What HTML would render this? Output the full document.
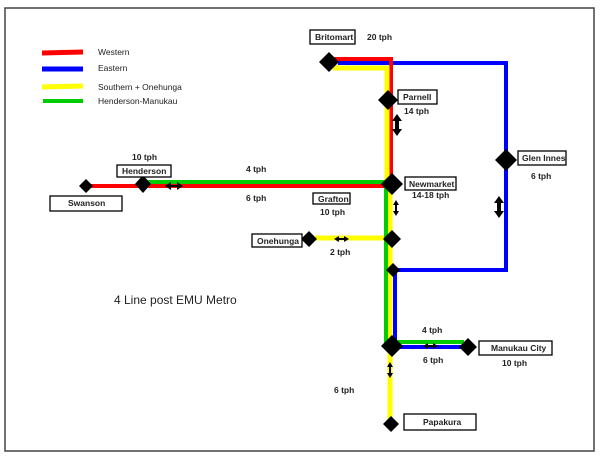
<!DOCTYPE html>
<html><head><meta charset="utf-8"><style>
html,body{margin:0;padding:0;background:#fff;}
svg{display:block;}
text{font-family:"Liberation Sans",Arial,sans-serif;font-size:8.5px;font-weight:bold;fill:#222;}
.l{fill:#fff;stroke:#000;stroke-width:1.3;}
</style></head><body>
<svg width="600" height="464" viewBox="0 0 600 464" xmlns="http://www.w3.org/2000/svg">
<rect x="5" y="8" width="589" height="443" fill="#fff" stroke="#444" stroke-width="1.5"/>
<!-- legend -->
<line x1="42" y1="53" x2="83" y2="52" stroke="#f00" stroke-width="5"/>
<line x1="42" y1="69" x2="83" y2="69" stroke="#00f" stroke-width="5"/>
<line x1="42" y1="87" x2="83" y2="86" stroke="#ff0" stroke-width="5"/>
<line x1="43" y1="101" x2="83" y2="101" stroke="#0c0" stroke-width="4"/>
<text x="98" y="55" style="font-weight:normal">Western</text>
<text x="98" y="71" style="font-weight:normal">Eastern</text>
<text x="98" y="90" style="font-weight:normal">Southern + Onehunga</text>
<text x="98" y="104" style="font-weight:normal">Henderson-Manukau</text>
<text x="114" y="304" style="font-size:12px;font-weight:normal">4 Line post EMU Metro</text>
<!-- lines -->
<polyline points="338,63 506,63 506,270 395,270 395,347 466,347" fill="none" stroke="#00f" stroke-width="4"/>
<polyline points="333,59 391,59 391,186 86,186" fill="none" stroke="#f00" stroke-width="4"/>
<polyline points="333,68 387,68 387,185" fill="none" stroke="#ff0" stroke-width="5"/>
<polyline points="390,185 390,424" fill="none" stroke="#ff0" stroke-width="5"/>
<line x1="315" y1="238" x2="390" y2="238" stroke="#ff0" stroke-width="5"/>
<polyline points="143,182 386,182 386,342 464,342" fill="none" stroke="#0c0" stroke-width="4"/>
<!-- diamonds -->
<g fill="#000">
<polygon points="329,52 339,62 329,72 319,62"/>
<polygon points="388,90 398,100 388,110 378,100"/>
<polygon points="506,149 517,160 506,171 495,160"/>
<polygon points="392,173 403,184 392,195 381,184"/>
<polygon points="86,179 93,186 86,193 79,186"/>
<polygon points="143,175 151,184 143,193 135,184"/>
<polygon points="309,231 317,239 309,247 301,239"/>
<polygon points="392,230 401,239 392,248 383,239"/>
<polygon points="393,263 400,270 393,277 386,270"/>
<polygon points="392,335 403,346 392,357 381,346"/>
<polygon points="468,338 477,347 468,356 459,347"/>
<polygon points="391,416 399,424 391,432 383,424"/>
</g>
<!-- arrows -->
<g fill="#000">
<path d="M397 114 l-5 7 h3 v8 h-3 l5 7 l5 -7 h-3 v-8 h3 z"/>
<path d="M499 196 l-5 7 h3 v8 h-3 l5 7 l5 -7 h-3 v-8 h3 z"/>
<path d="M165 186 l6 -4 v3 h6 v-3 l6 4 l-6 4 v-3 h-6 v3 z"/>
<path d="M334 239 l5 -3 v2 h5 v-2 l5 3 l-5 3 v-2 h-5 v2 z"/>
<path d="M423 346 l5 -3 v2 h5 v-2 l5 3 l-5 3 v-2 h-5 v2 z"/>
<path d="M390 362 l-3 5 h2 v6 h-2 l3 5 l3 -5 h-2 v-6 h2 z"/>
<path d="M396 200 l-3 5 h2 v6 h-2 l3 5 l3 -5 h-2 v-6 h2 z"/>
</g>
<!-- labels -->
<rect class="l" x="310" y="30" width="45" height="14"/><text x="315" y="40">Britomart</text>
<text x="367" y="40">20 tph</text>
<rect class="l" x="398" y="90" width="39" height="14"/><text x="403" y="100">Parnell</text>
<text x="404" y="114">14 tph</text>
<rect class="l" x="518" y="151" width="48" height="14"/><text x="522" y="161">Glen Innes</text>
<text x="531" y="179">6 tph</text>
<rect class="l" x="405" y="177" width="51" height="13"/><text x="409" y="187">Newmarket</text>
<text x="412" y="198">14-18 tph</text>
<rect class="l" x="117" y="165" width="54" height="12"/><text x="122" y="174">Henderson</text>
<text x="132" y="160">10 tph</text>
<rect class="l" x="50" y="196" width="72" height="15"/><text x="68" y="206">Swanson</text>
<text x="246" y="172">4 tph</text>
<text x="246" y="201">6 tph</text>
<rect class="l" x="313" y="193" width="37" height="11"/><text x="318" y="202">Grafton</text>
<text x="320" y="215">10 tph</text>
<rect class="l" x="252" y="234" width="50" height="13"/><text x="257" y="244">Onehunga</text>
<text x="330" y="255">2 tph</text>
<text x="422" y="333">4 tph</text>
<text x="423" y="363">6 tph</text>
<rect class="l" x="479" y="341" width="73" height="14"/><text x="491" y="351">Manukau City</text>
<text x="502" y="366">10 tph</text>
<text x="334" y="393">6 tph</text>
<rect class="l" x="404" y="414" width="72" height="16"/><text x="423" y="425">Papakura</text>
</svg>
</body></html>
